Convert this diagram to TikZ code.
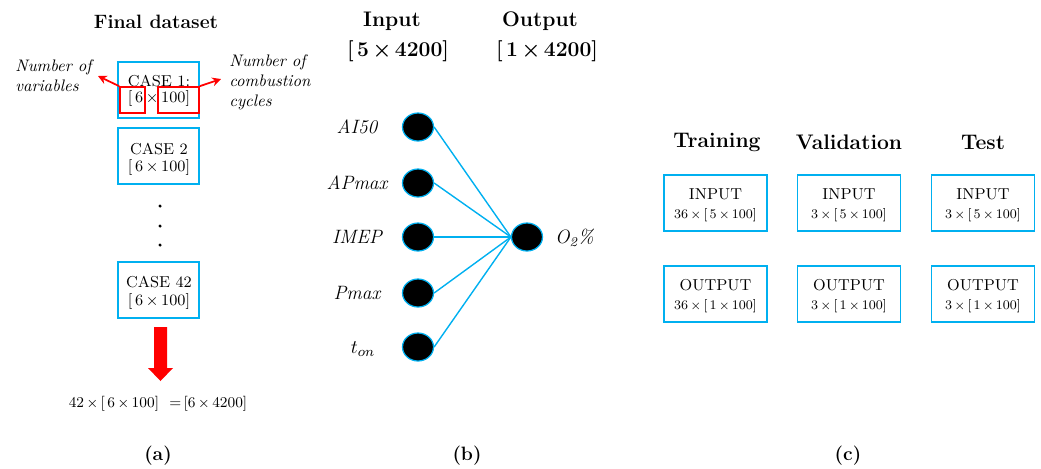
\documentclass[tikz,border=0pt]{standalone}
\usepackage{fontspec}
\usetikzlibrary{shapes.geometric,arrows.meta}
\definecolor{cy}{RGB}{0,176,240}
\definecolor{rd}{RGB}{255,0,0}
\tikzset{
  casebox/.style={draw=cy,line width=1.1pt,minimum width=1.62cm,minimum height=1.12cm,inner sep=0pt},
  setbox/.style={draw=cy,line width=1.1pt,minimum width=2.06cm,minimum height=1.12cm,inner sep=0pt},
  redbox/.style={draw=rd,line width=1pt,inner sep=0pt},
  neuron/.style={ellipse,fill=black,draw=cy,line width=0.7pt,minimum width=0.62cm,minimum height=0.56cm,inner sep=0pt},
  link/.style={draw=cy,line width=0.8pt},
  redarrow/.style={draw=rd,line width=1pt,-{Stealth[length=5pt,width=5pt]}},
  hdr/.style={font=\bfseries\boldmath\fontsize{12}{14}\selectfont},
  boxtxt/.style={font=\fontsize{9}{10}\selectfont},
  dimtxt/.style={font=\fontsize{7.5}{8}\selectfont},
  varlbl/.style={font=\itshape\fontsize{11}{12}\selectfont},
  note/.style={font=\itshape\fontsize{9.5}{11.4}\selectfont,align=left,inner sep=0pt},
  panelcap/.style={font=\bfseries\fontsize{11}{12}\selectfont}
}
\begin{document}
\begin{tikzpicture}[x=0.02cm,y=-0.02cm]
\useasboundingbox (0,0) rectangle (1041,468);
% ---------- panel (a)
\node[font=\bfseries\fontsize{11}{12}\selectfont] (fd) at (156,22) {Final dataset};
\node[casebox] (c1) at (158.5,90) {};
\node[boxtxt] (c1a) at (159,81) {CASE 1:};
\node[boxtxt] (c1b) at (159,99) {[\,6\,$\times$\,100]};
\node[redbox,minimum width=0.5cm,minimum height=0.52cm] (r1) at (132.5,100) {};
\node[redbox,minimum width=0.82cm,minimum height=0.52cm] (r2) at (178.5,100) {};
\coordinate (a1) at (98,76);
\coordinate (a2) at (221,79);
\draw[redarrow] (r1.north west) -- (a1);
\draw[redarrow] (r2.north east) -- (a2);
\node[note,anchor=north west] (n1) at (15,59) {Number of\\variables};
\node[note,anchor=north west] (n2) at (229,54) {Number of\\combustion\\cycles};
\node[casebox] (c2) at (158.5,156) {};
\node[boxtxt] (c2a) at (159,149) {CASE 2};
\node[boxtxt] (c2b) at (159,168) {[\,6\,$\times$\,100]};
\node[circle,fill=black,inner sep=0.7pt] (d1) at (160,206) {};
\node[circle,fill=black,inner sep=0.7pt] (d2) at (160,226) {};
\node[circle,fill=black,inner sep=0.7pt] (d3) at (160,245) {};
\node[casebox] (c42) at (158.5,290) {};
\node[boxtxt] (c42a) at (159,282) {CASE 42};
\node[boxtxt] (c42b) at (159,302) {[\,6\,$\times$\,100]};
\fill[rd] (154,327) -- (167,327) -- (167,368) -- (173,368) -- (160.5,381) -- (148,368) -- (154,368) -- cycle;
\node[boxtxt,font=\fontsize{8.5}{10}\selectfont] (tot) at (158,404) {42\,$\times$\,[\,6\,$\times$\,100]\ \ =\,[6\,$\times$\,4200]};
\node[panelcap] (capa) at (158,456) {(a)};
% ---------- panel (b)
\node[hdr] (inh) at (392,21) {Input};
\node[hdr] (inhd) at (398,51) {[\,5\,$\times$\,4200]};
\node[hdr] (outh) at (540,21) {Output};
\node[hdr] (outhd) at (547,51) {[\,1\,$\times$\,4200]};
\node[neuron] (i1) at (418,127) {};
\node[neuron] (i2) at (418,183) {};
\node[neuron] (i3) at (418,237) {};
\node[neuron] (i4) at (418,293) {};
\node[neuron] (i5) at (418,347) {};
\node[neuron] (o) at (527,237) {};
\node[varlbl] (l1) at (357,127) {AI50};
\node[varlbl] (l2) at (357,183) {APmax};
\node[varlbl] (l3) at (357,237) {IMEP};
\node[varlbl] (l4) at (357,293) {Pmax};
\node[varlbl] (l5) at (363,349) {$t_{on}$};
\node[varlbl,anchor=west] (lo) at (549,238) {O\textsubscript{2}\%};
\foreach \i in {1,...,5} \draw[link] (i\i.east) -- (o.west);
\node[panelcap] (capb) at (467,456) {(b)};
% ---------- panel (c)
\node[hdr] (tr) at (717,142) {Training};
\node[hdr] (va) at (849,142) {Validation};
\node[hdr] (te) at (983,142) {Test};
\node[setbox] (tri) at (715.5,203) {};
\node[setbox] (vai) at (849,203) {};
\node[setbox] (tei) at (983,203) {};
\node[setbox] (tro) at (715.5,294) {};
\node[setbox] (vao) at (849,294) {};
\node[setbox] (teo) at (983,294) {};
\node[boxtxt] (t1) at (715.5,194) {INPUT};
\node[dimtxt] (t2) at (715.5,215) {36\,$\times$\,[\,5\,$\times$\,100]};
\node[boxtxt] (t3) at (849,194) {INPUT};
\node[dimtxt] (t4) at (849,215) {3\,$\times$\,[\,5\,$\times$\,100]};
\node[boxtxt] (t5) at (983,194) {INPUT};
\node[dimtxt] (t6) at (983,215) {3\,$\times$\,[\,5\,$\times$\,100]};
\node[boxtxt] (t7) at (715.5,285) {OUTPUT};
\node[dimtxt] (t8) at (715.5,306) {36\,$\times$\,[\,1\,$\times$\,100]};
\node[boxtxt] (t9) at (849,285) {OUTPUT};
\node[dimtxt] (t10) at (849,306) {3\,$\times$\,[\,1\,$\times$\,100]};
\node[boxtxt] (t11) at (983,285) {OUTPUT};
\node[dimtxt] (t12) at (983,306) {3\,$\times$\,[\,1\,$\times$\,100]};
\node[panelcap] (capc) at (848,456) {(c)};
\end{tikzpicture}
\end{document}
